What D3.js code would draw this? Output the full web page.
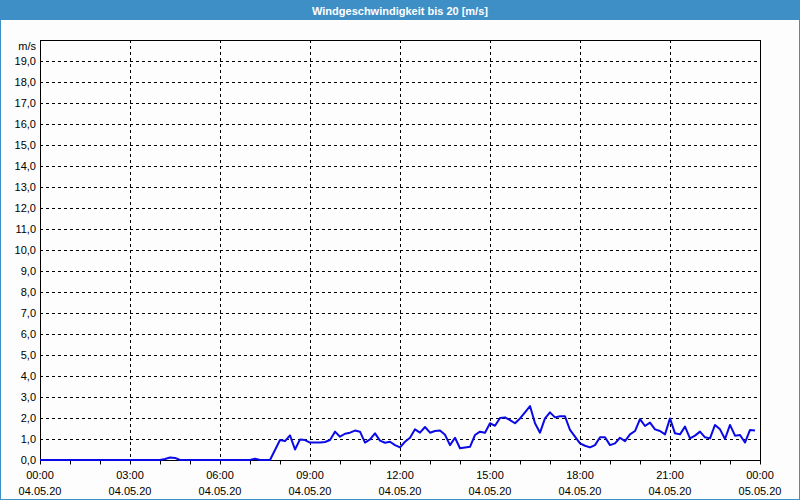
<!DOCTYPE html>
<html>
<head>
<meta charset="utf-8">
<script src="https://cdn.jsdelivr.net/npm/d3@7/dist/d3.min.js"></script>
<style>
  html, body { margin: 0; padding: 0; background: #fcfdfc; }
  svg { display: block; }
  text { font-family: "Liberation Sans", Arial, sans-serif; }
</style>
</head>
<body>
<svg id="chart" width="800" height="500"></svg>
<script>
const title = "Windgeschwindigkeit bis 20 [m/s]";
const unitLabel = "m/s";
const yTicks = [0,1,2,3,4,5,6,7,8,9,10,11,12,13,14,15,16,17,18,19];
const xTickHours = [0,3,6,9,12,15,18,21,24];
const xTimeLabels = ["00:00","03:00","06:00","09:00","12:00","15:00","18:00","21:00","00:00"];
const xDateLabels = ["04.05.20","04.05.20","04.05.20","04.05.20","04.05.20","04.05.20","04.05.20","04.05.20","05.05.20"];

const times = [
 "00:00","01:00","02:00","03:00","04:00","04:10","04:20","04:30","04:40","05:00","06:00","07:00","07:10","07:20","07:40",
 "08:00","08:10","08:20","08:30","08:40","08:50","09:00","09:10","09:20","09:30","09:40","09:50",
 "10:00","10:10","10:20","10:30","10:40","10:50","11:00","11:10","11:20","11:30","11:40","11:50",
 "12:00","12:10","12:20","12:30","12:40","12:50","13:00","13:10","13:20","13:30","13:40","13:50",
 "14:00","14:10","14:20","14:30","14:40","14:50","15:00","15:10","15:20","15:30","15:40","15:50",
 "16:00","16:10","16:20","16:30","16:40","16:50","17:00","17:10","17:20","17:30","17:40","17:50",
 "18:00","18:10","18:20","18:30","18:40","18:50","19:00","19:10","19:20","19:30","19:40","19:50",
 "20:00","20:10","20:20","20:30","20:40","20:50","21:00","21:10","21:20","21:30","21:40","21:50",
 "22:00","22:10","22:20","22:30","22:40","22:50","23:00","23:10","23:20","23:30","23:40","23:50"
];
const speeds = [
 0,0,0,0,0,0.05,0.12,0.1,0,0,0,0,0.06,0,0,
 0.95,0.9,1.17,0.5,0.98,0.95,0.83,0.83,0.83,0.86,0.95,1.35,
 1.11,1.25,1.3,1.4,1.35,0.83,0.98,1.27,0.92,0.82,0.87,0.71,
 0.6,0.87,1.06,1.46,1.3,1.57,1.3,1.38,1.4,1.2,0.71,1.06,
 0.56,0.6,0.63,1.19,1.35,1.3,1.75,1.63,2.0,2.03,1.9,1.75,
 1.98,2.27,2.57,1.75,1.3,1.98,2.27,2.03,2.08,2.08,1.43,1.11,
 0.79,0.68,0.6,0.71,1.08,1.08,0.71,0.79,1.06,0.9,1.22,1.38,
 1.95,1.62,1.78,1.46,1.38,1.22,1.98,1.27,1.22,1.59,1.03,1.16,
 1.35,1.08,1.03,1.67,1.46,1.0,1.67,1.16,1.19,0.83,1.43,1.4
];

const toHours = t => { const [h,m] = t.split(":").map(Number); return h + m/60; };
const data = times.map((t,i) => ({h: toHours(t), v: speeds[i]}));

const svg = d3.select("#chart");
const W = 800, H = 500;
const L = 40, R = 760, T = 40, B = 460;
const FONT = "'Liberation Sans', Arial, sans-serif";

// background & frame
svg.append("rect").attr("x",0).attr("y",0).attr("width",W).attr("height",H).attr("fill","#fcfdfc");
svg.append("rect").attr("x",0).attr("y",0).attr("width",W).attr("height",20).attr("fill","#3d8fc6");
svg.append("rect").attr("x",0.5).attr("y",0.5).attr("width",W-1).attr("height",H-1)
  .attr("fill","none").attr("stroke","#3d8fc6").attr("stroke-width",1);
svg.append("text").attr("x",W/2).attr("y",14.5).attr("text-anchor","middle")
  .attr("fill","#ffffff").attr("font-weight","bold").attr("font-size","11px").text(title);

const x = d3.scaleLinear().domain([0,24]).range([L,R]);
const y = d3.scaleLinear().domain([0,20]).range([B,T]);

// horizontal grid
svg.append("g").selectAll("line").data(yTicks.filter(d=>d>0)).join("line")
  .attr("x1",L).attr("x2",R).attr("y1",d=>Math.round(y(d))+0.5).attr("y2",d=>Math.round(y(d))+0.5)
  .attr("stroke","#000").attr("stroke-width",1).attr("stroke-dasharray","3,3");
// vertical grid
svg.append("g").selectAll("line").data(xTickHours.filter(d=>d>0&&d<24)).join("line")
  .attr("x1",d=>Math.round(x(d))+0.5).attr("x2",d=>Math.round(x(d))+0.5).attr("y1",T).attr("y2",B)
  .attr("stroke","#000").attr("stroke-width",1).attr("stroke-dasharray","3,3");

// y axis labels
const yAxis = d3.axisLeft(y).tickValues(yTicks).tickSize(0).tickPadding(4)
  .tickFormat(d => d3.format(".1f")(d).replace(".",","));
const gy = svg.append("g").attr("transform",`translate(${L},0)`).call(yAxis);
gy.select(".domain").remove();
gy.selectAll("text").attr("font-size","11px").attr("fill","#000").attr("font-family",FONT);
svg.append("text").attr("x",36).attr("y",T+10).attr("text-anchor","end").attr("font-size","11px").attr("fill","#000").text(unitLabel);

// x axis hourly ticks
const xAxis = d3.axisBottom(x).tickValues(d3.range(0,25)).tickSize(4).tickFormat("");
const gx = svg.append("g").attr("transform",`translate(0,${B+0.5})`).call(xAxis);
gx.select(".domain").remove();
gx.selectAll("line").attr("stroke","#000");

// x labels (two lines)
const lbl = svg.append("g").selectAll("g").data(xTickHours).join("g")
  .attr("transform",d=>`translate(${x(d)},0)`);
lbl.append("text").attr("y",479).attr("text-anchor","middle").attr("font-size","11px").attr("fill","#000")
  .text((d,i)=>xTimeLabels[i]);
lbl.append("text").attr("y",495).attr("text-anchor","middle").attr("font-size","11px").attr("fill","#000")
  .text((d,i)=>xDateLabels[i]);

// plot frame
svg.append("rect").attr("x",L+0.5).attr("y",T+0.5).attr("width",R-L).attr("height",B-T)
  .attr("fill","none").attr("stroke","#000").attr("stroke-width",1);

// data line
const line = d3.line().x(d=>x(d.h)).y(d=>y(d.v));
svg.append("path").datum(data).attr("d",line).attr("fill","none")
  .attr("stroke","#0a0ae6").attr("stroke-width",2).attr("stroke-linejoin","round");
</script>
</body>
</html>
